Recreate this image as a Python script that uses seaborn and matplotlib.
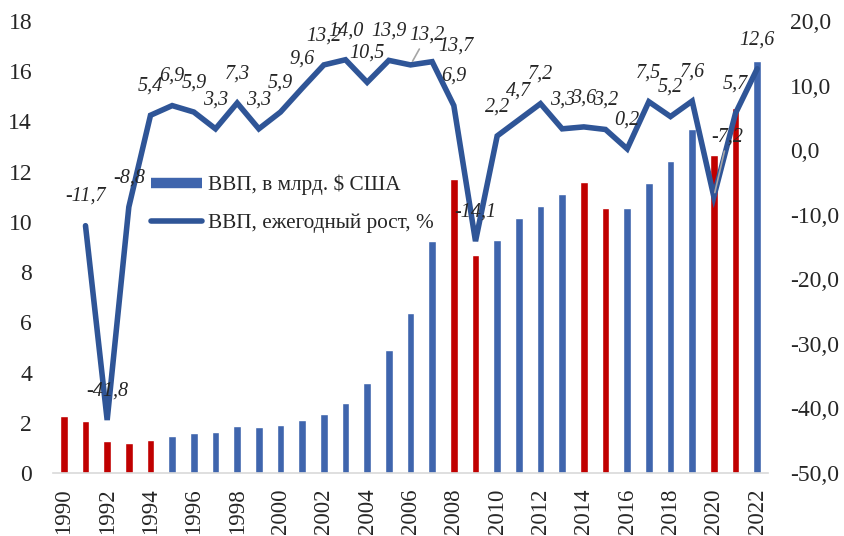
import numpy as np
import pandas as pd
import seaborn as sns
import matplotlib.pyplot as plt
from matplotlib.lines import Line2D
from matplotlib.ticker import FixedLocator, FuncFormatter

years = list(range(1990, 2023))
# ВВП, млрд. $ США (читается с левой оси)
gdp = [2.28, 2.07, 1.27, 1.20, 1.31, 1.46, 1.58, 1.63, 1.88, 1.83, 1.91,
       2.11, 2.36, 2.79, 3.57, 4.90, 6.39, 9.22, 11.70, 8.69, 9.28, 10.15,
       10.63, 11.13, 11.60, 10.56, 10.55, 11.55, 12.43, 13.68, 12.68, 14.55, 16.40]
# ежегодный рост, %
growth = [np.nan, -11.7, -41.8, -8.8, 5.4, 6.9, 5.9, 3.3, 7.3, 3.3, 5.9,
          9.6, 13.2, 14.0, 10.5, 13.9, 13.2, 13.7, 6.9, -14.1, 2.2, 4.7,
          7.2, 3.3, 3.6, 3.2, 0.2, 7.5, 5.2, 7.6, -7.2, 5.7, 12.6]
red_years = [1990, 1991, 1992, 1993, 1994, 2008, 2009, 2014, 2015, 2020, 2021]

BLUE = '#3F65AD'
RED = '#C00000'
LINE = '#2F5597'
GRAY = '#D9D9D9'

df = pd.DataFrame({'year': years, 'gdp': gdp, 'growth': growth})
df['grp'] = np.where(df['year'].isin(red_years), 'red', 'blue')

sns.set_style('white')
plt.rcParams['font.family'] = ['Liberation Serif', 'DejaVu Serif']

fig = plt.figure(figsize=(8.44, 5.36), dpi=100)
ax = fig.add_axes([53 / 844, 63 / 536, 715 / 844, 452 / 536])

sns.barplot(data=df, x='year', y='gdp', hue='grp', native_scale=True,
            palette={'red': RED, 'blue': BLUE}, dodge=False, width=0.36,
            saturation=1, legend=False, ax=ax)
ax.set_xlim(1989.5, 2022.5)
ax.set_ylim(0, 18)
ax.set_yticks(range(0, 19, 2))
ax.set_xlabel('')
ax.set_ylabel('')

ax.xaxis.set_major_locator(FixedLocator(years[::2]))
ax.set_xticklabels([str(y) for y in years[::2]], rotation=90)
ax.xaxis.set_minor_locator(FixedLocator(np.arange(1989.5, 2023, 1)))
ax.tick_params(axis='x', which='major', length=0, pad=11, labelsize=16.5)
ax.tick_params(axis='x', which='minor', length=5, color=GRAY, width=1)
ax.tick_params(axis='y', length=0, pad=15, labelsize=17)
for s in ['top', 'left', 'right']:
    ax.spines[s].set_visible(False)
ax.spines['bottom'].set_color(GRAY)
ax.spines['bottom'].set_linewidth(1.2)

ax2 = ax.twinx()
sns.lineplot(data=df, x='year', y='growth', color=LINE, lw=4.0,
             solid_joinstyle='miter', ax=ax2, legend=False)
ax2.set_ylim(-50, 20)
ax2.set_yticks(range(-50, 21, 10))
ax2.yaxis.set_major_formatter(FuncFormatter(lambda v, p: f'{v:.1f}'.replace('.', ',')))
ax2.tick_params(axis='y', length=0, pad=16, labelsize=17)
ax2.set_ylabel('')
for s in ax2.spines.values():
    s.set_visible(False)

# подписи данных
offsets = {2006: (12, 21.5), 2007: (17, 11), 2020: (10, 43)}
for y, v in zip(years, growth):
    if np.isnan(v):
        continue
    dx, dy = offsets.get(y, (0, 21))
    arrow = None
    if y in (2006, 2020):
        arrow = dict(arrowstyle='-', color='#A6A6A6', lw=1.2, shrinkA=1, shrinkB=3)
    ax2.annotate(f'{v:.1f}'.replace('.', ','), (y, v), xytext=(dx, dy),
                 textcoords='offset points', ha='center', va='center',
                 fontsize=14.5, style='italic', arrowprops=arrow)

handles = [Line2D([], [], color=BLUE, lw=7.5, solid_capstyle='butt'),
           Line2D([], [], color=LINE, lw=4.0, solid_capstyle='round')]
labels = ['ВВП, в млрд. $ США', 'ВВП, ежегодный рост, %']
fig.legend(handles, labels, loc='center left', bbox_to_anchor=(151 / 844, 332 / 536),
           bbox_transform=fig.transFigure, frameon=False, fontsize=15.3,
           handlelength=2.4, handletextpad=0.3, labelspacing=0.85,
           borderpad=0, borderaxespad=0)

fig.savefig('out.png', dpi=100)
